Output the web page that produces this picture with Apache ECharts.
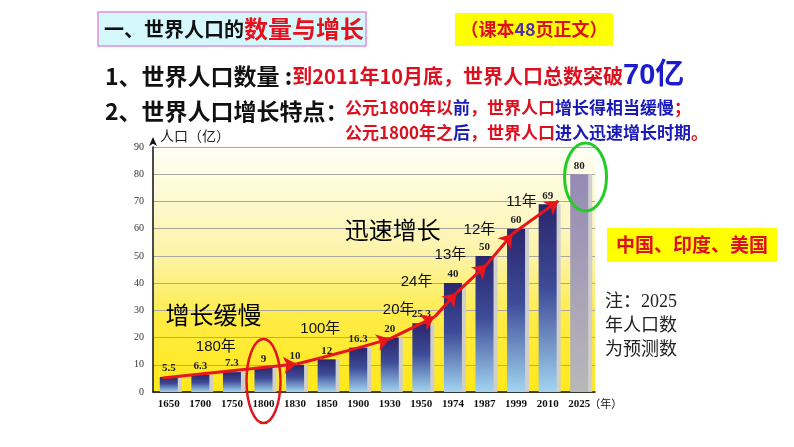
<!DOCTYPE html>
<html><head><meta charset="utf-8">
<script src="https://cdn.jsdelivr.net/npm/echarts@6/dist/echarts.min.js"></script>
<style>html,body{margin:0;padding:0;background:#fff;}#c{width:794px;height:447px;}</style>
</head><body><div id="c"></div>
<script>
// ---- data ----
const years = ['1650','1700','1750','1800','1830','1850','1900','1930','1950','1974','1987','1999','2010','2025'];
const population = [5.5, 6.3, 7.3, 9, 10, 12, 16.3, 20, 25.3, 40, 50, 60, 69, 80];
const yMin = 0, yMax = 90, yStep = 10;
// trend arrow segments ending in an arrow head: [categoryIndex, value]
const trendArrows = [
  [[-0.2, 5.1], [4.05, 10.3]],
  [[6.0, 16.2], [7.0, 19.5]],
  [[7.0, 19.5], [8.42, 27.6]],
  [[8.42, 27.6], [9.11, 36.4]],
  [[9.11, 36.4], [10.06, 46.7]],
  [[10.06, 46.7], [10.89, 58.1]],
  [[10.89, 58.1], [12.34, 70.2]]
];
// plain connecting pieces (no arrow head)
const trendPieces = [
  [[4.05, 10.3], [4.8, 12.5]],
  [[4.8, 12.5], [6.0, 16.2]]
];
// interval notes: [text, categoryIndex, value]
const intervalNotes = [
  ['180年', 1.49, 16.5], ['100年', 4.8, 23.2], ['20年', 7.28, 30.1], ['24年', 7.85, 40.4],
  ['13年', 8.92, 50.4], ['12年', 9.84, 59.6], ['11年', 11.17, 69.9]
];
const phaseNotes = [['增长缓慢', 1.42, 28.3], ['迅速增长', 7.09, 59.6]];

const RED = '#dd1020', BLUE = '#1a1ab8';
const CJK = '"Noto Sans CJK SC", sans-serif';
const SERIF = '"Liberation Serif", "Noto Sans CJK SC", serif';

const chart = echarts.init(document.getElementById('c'), null, {renderer: 'canvas'});

const barGrad = new echarts.graphic.LinearGradient(0, 0, 0, 1, [
  {offset: 0, color: '#2a266c'}, {offset: 0.45, color: '#3d4b98'}, {offset: 1, color: '#a2d4f0'}
]);
const predGrad = new echarts.graphic.LinearGradient(0, 0, 0, 1, [
  {offset: 0, color: '#958ab4'}, {offset: 1, color: '#b8b8b8'}
]);
const lineStyle = {color: '#e8151b', width: 3, opacity: 1};

const option = {
  animation: false,
  grid: {
    left: 153, top: 147, bottom: 55, width: 442, show: true, borderWidth: 0,
    backgroundColor: new echarts.graphic.LinearGradient(0, 0, 0, 1, [
      {offset: 0, color: '#fffff6'}, {offset: 0.45, color: '#fcf3a6'},
      {offset: 0.7, color: '#ffec45'}, {offset: 1, color: '#ffe818'}
    ])
  },
  xAxis: [{
    type: 'category', data: years, boundaryGap: true,
    axisLine: {lineStyle: {color: '#111', width: 1.5}},
    axisTick: {show: false},
    axisLabel: {margin: 7, fontFamily: SERIF, fontWeight: 'bold', fontSize: 11, color: '#111'}
  }, {
    type: 'value', min: -0.5, max: 13.5, show: false, splitLine: {show: false}
  }],
  yAxis: {
    type: 'value', min: yMin, max: yMax, interval: yStep,
    name: '人口（亿）', nameLocation: 'end', nameGap: 3,
    nameTextStyle: {align: 'left', verticalAlign: 'bottom', padding: [0, 0, 0, 7], fontSize: 14, fontFamily: SERIF, color: '#222'},
    axisLine: {show: true, onZero: false, symbol: ['none', 'arrow'], symbolSize: [6, 9], symbolOffset: [0, 10], lineStyle: {color: '#111', width: 1.5}},
    axisTick: {show: false},
    axisLabel: {margin: 9, fontFamily: SERIF, fontSize: 10, color: '#333'},
    splitLine: {lineStyle: {color: '#a8a89c', width: 1}}
  },
  series: [{
    type: 'bar', data: population.map((v, i) => i === population.length - 1 ? {value: v, itemStyle: {color: predGrad}} : v),
    barWidth: 18,
    itemStyle: {color: barGrad, shadowColor: 'rgba(205,205,210,0.95)', shadowOffsetX: 4, shadowBlur: 0},
    label: {show: true, position: 'top', distance: 3, fontFamily: SERIF, fontWeight: 'bold', fontSize: 11, color: '#222'}
  }, {
    type: 'lines', coordinateSystem: 'cartesian2d', xAxisIndex: 1, yAxisIndex: 0, z: 5,
    symbol: ['none', 'arrow'], symbolSize: 13, lineStyle: lineStyle,
    data: trendArrows.map(s => ({coords: s}))
  }, {
    type: 'lines', coordinateSystem: 'cartesian2d', xAxisIndex: 1, yAxisIndex: 0, z: 5,
    symbol: ['none', 'none'], lineStyle: lineStyle,
    data: trendPieces.map(s => ({coords: s}))
  }, {
    type: 'scatter', xAxisIndex: 1, yAxisIndex: 0, symbolSize: 1, itemStyle: {color: '#000', opacity: 0}, silent: true, z: 6,
    data: intervalNotes.map(n => ({name: n[0], value: [n[1], n[2]]})),
    label: {show: true, position: 'inside', opacity: 1, formatter: '{b}', fontFamily: '"Liberation Sans", "Noto Sans CJK SC", sans-serif', fontSize: 15, color: '#111', textBorderWidth: 0}
  }, {
    type: 'scatter', xAxisIndex: 1, yAxisIndex: 0, symbolSize: 1, itemStyle: {color: '#000', opacity: 0}, silent: true, z: 6,
    data: phaseNotes.map(n => ({name: n[0], value: [n[1], n[2]]})),
    label: {show: true, position: 'inside', opacity: 1, formatter: '{b}', fontFamily: CJK, fontSize: 24, color: '#000', textBorderWidth: 0}
  }]
};
chart.setOption(option);

// annotation shapes placed via the chart's own scales
const p1800 = chart.convertToPixel({xAxisIndex: 1, yAxisIndex: 0}, [3, 4]);
const p2025 = chart.convertToPixel({xAxisIndex: 1, yAxisIndex: 0}, [13.2, 79]);
const pYear = chart.convertToPixel({xAxisIndex: 0, yAxisIndex: 0}, ['2025', 0]);

chart.setOption({graphic: [
  {id: 'h1box', type: 'rect', shape: {x: 98, y: 12, width: 268, height: 34}, style: {fill: '#d4f8fb', stroke: '#e08ee0', lineWidth: 1.5}},
  {id: 'h1', type: 'text', x: 104, y: 29, style: {text: '{a|一、世界人口的}{b|数量与增长}', verticalAlign: 'middle',
    rich: {a: {fontSize: 20, fontWeight: 'bold', fontFamily: CJK, fill: '#111'}, b: {fontSize: 24, fontWeight: 'bold', fontFamily: CJK, fill: '#e8101c'}}}},
  {id: 'h2box', type: 'rect', shape: {x: 455, y: 13, width: 158, height: 33}, style: {fill: '#ffff00'}},
  {id: 'h2', type: 'text', x: 534, y: 29, style: {text: '{r|（课本}{p|48}{r|页正文）}', align: 'center', verticalAlign: 'middle',
    rich: {r: {fontSize: 18, fontWeight: 'bold', fontFamily: CJK, fill: RED}, p: {fontSize: 18, fontWeight: 'bold', fontFamily: CJK, fill: '#5030b0'}}}},
  {id: 'l1', type: 'text', x: 105, y: 76, style: {text: '{k|1、世界人口数量 :}{r|到2011年10月底，世界人口总数突破}{b|70亿}', verticalAlign: 'middle',
    rich: {k: {fontSize: 23, fontWeight: 'bold', fontFamily: CJK, fill: '#111'}, r: {fontSize: 20, fontWeight: 'bold', fontFamily: CJK, fill: RED},
      b: {fontSize: 29, fontWeight: 'bold', fontFamily: '"Liberation Sans", ' + CJK, fill: '#1c1ccc'}}}},
  {id: 'l2', type: 'text', x: 105, y: 111, style: {text: '2、世界人口增长特点：', verticalAlign: 'middle', fontSize: 23, fontWeight: 'bold', fontFamily: CJK, fill: '#111'}},
  {id: 'l2a', type: 'text', x: 345, y: 108, style: {text: '{r|公元1800年以}{b|前}{r|，世界人口}{b|增长得相当缓慢}{r|；}', verticalAlign: 'middle',
    rich: {r: {fontSize: 17, fontWeight: 'bold', fontFamily: CJK, fill: RED}, b: {fontSize: 17, fontWeight: 'bold', fontFamily: CJK, fill: BLUE}}}},
  {id: 'l2b', type: 'text', x: 345, y: 133, style: {text: '{r|公元1800年之}{b|后}{r|，世界人口}{b|进入迅速增长时期}{r|。}', verticalAlign: 'middle',
    rich: {r: {fontSize: 17, fontWeight: 'bold', fontFamily: CJK, fill: RED}, b: {fontSize: 17, fontWeight: 'bold', fontFamily: CJK, fill: BLUE}}}},
  {id: 'cbox', type: 'rect', shape: {x: 607, y: 228, width: 170, height: 34}, style: {fill: '#ffff00'}},
  {id: 'ctext', type: 'text', x: 692, y: 245, style: {text: '中国、印度、美国', align: 'center', verticalAlign: 'middle', fontSize: 19, fontWeight: 'bold', fontFamily: CJK, fill: RED}},
  {id: 'note', type: 'text', x: 605, y: 290, style: {text: '注：2025\n年人口数\n为预测数', lineHeight: 24, fontSize: 18, fontFamily: SERIF, fill: '#222'}},
  {id: 'e1800', type: 'ellipse', z: 100, shape: {cx: p1800[0], cy: p1800[1], rx: 17, ry: 42}, style: {fill: 'none', stroke: '#e0161e', lineWidth: 2.5}},
  {id: 'e2025', type: 'ellipse', z: 100, shape: {cx: p2025[0], cy: p2025[1], rx: 21, ry: 34}, style: {fill: 'none', stroke: '#22cc22', lineWidth: 3}},
  {id: 'yearUnit', type: 'text', z: 100, x: pYear[0] + 10, y: pYear[1] + 13, style: {text: '（年）', verticalAlign: 'middle', fontSize: 11, fontFamily: SERIF, fill: '#111'}}
]});
</script>
</body></html>
